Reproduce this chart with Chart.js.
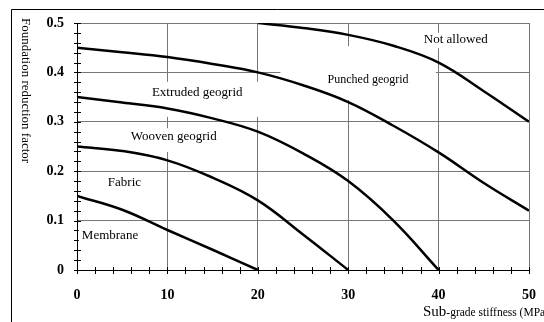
<!DOCTYPE html>
<html lang="en">
<head>
  <meta charset="UTF-8">
  <title>Foundation reduction factor</title>
  <style>
    body {
      margin: 0;
      background-color: #fff;
    }

    .chart-container {
      position: relative;
      width: 544px;
      height: 322px;
    }
  </style>
  <script src="https://cdn.jsdelivr.net/npm/chart.js"></script>
</head>
<body>
  <div class="chart-container">
    <canvas id="chart"></canvas>
  </div>

  <script>
    // Curves (x = sub-grade stiffness, y = reduction factor)
    const membraneX = [0, 5, 10, 15, 20];
    const membraneY = [0.15, 0.122, 0.081, 0.041, 0];
    const fabricX = [0, 5, 10, 15, 20, 25, 30];
    const fabricY = [0.25, 0.241, 0.222, 0.187, 0.141, 0.072, 0];
    const wovenX = [0, 5, 10, 15, 20, 25, 30, 35, 40];
    const wovenY = [0.35, 0.339, 0.327, 0.307, 0.28, 0.236, 0.18, 0.1, 0];
    const extrudedX = [0, 5, 10, 15, 20, 25, 30, 35, 40, 45, 50];
    const extrudedY = [0.45, 0.441, 0.431, 0.417, 0.4, 0.374, 0.34, 0.292, 0.238, 0.176, 0.12];
    const punchedX = [20, 25, 30, 35, 40, 45, 50];
    const punchedY = [0.5, 0.49, 0.476, 0.454, 0.42, 0.362, 0.3];

    // Region labels and where they sit (data units)
    const labelText = ['Not allowed', 'Punched geogrid', 'Extruded geogrid', 'Wooven geogrid', 'Fabric', 'Membrane'];
    const labelX = [41.9, 32.2, 13.3, 10.7, 5.25, 3.65];
    const labelY = [0.466, 0.385, 0.36, 0.271, 0.176, 0.069];

    const xTitle = ['Sub', '-grade stiffness (MPa)'];
    const yTitle = 'Foundation reduction factor';

    const serif = "'Liberation Serif', 'Times New Roman', serif";

    // white boxes behind the labels, they hide parts of the grid [x0, x1, y0, y1]
    const maskBoxes = [
      [37.9, 45.9, 0.449, 0.48],
      [22.5, 39.7, 0.344, 0.453],
      [7.0, 20.5, 0.31, 0.381],
      [5.3, 16.4, 0.239, 0.287],
      [3.1, 7.5, 0.16, 0.194],
      [0.2, 7.0, 0.053, 0.085]
    ];

    function isMajor(v, step) {
      return Math.abs(v / step - Math.round(v / step)) < 1e-6;
    }

    function toPoints(xs, ys) {
      return xs.map((x, i) => ({ x: x, y: ys[i] }));
    }

    function curve(xs, ys) {
      return {
        data: toPoints(xs, ys),
        borderColor: '#000',
        borderWidth: 2.5,
        pointRadius: 0,
        fill: false,
        tension: 0.4
      };
    }

    const decorations = {
      id: 'decorations',
      beforeDraw(chart) {
        const c = chart.ctx;
        c.save();
        c.fillStyle = '#fff';
        c.fillRect(0, 0, chart.width, chart.height);
        // outer frame (top and left only visible)
        c.strokeStyle = '#000';
        c.lineWidth = 1;
        c.beginPath();
        c.moveTo(11.5, chart.height);
        c.lineTo(11.5, 9.5);
        c.lineTo(chart.width, 9.5);
        c.stroke();
        c.restore();
      },
      beforeDatasetsDraw(chart) {
        const c = chart.ctx;
        const x = chart.scales.x;
        const y = chart.scales.y;
        c.save();
        // tick marks crossing the axes
        c.strokeStyle = '#000';
        c.lineWidth = 1;
        c.beginPath();
        x.ticks.forEach(t => {
          const px = Math.round(x.getPixelForValue(t.value)) + 0.5;
          c.moveTo(px, y.bottom - 3);
          c.lineTo(px, y.bottom + 4);
        });
        y.ticks.forEach(t => {
          const py = Math.round(y.getPixelForValue(t.value)) + 0.5;
          c.moveTo(x.left - 3, py);
          c.lineTo(x.left + 4, py);
        });
        c.stroke();

        c.fillStyle = '#fff';
        maskBoxes.forEach(b => {
          const x0 = x.getPixelForValue(b[0]);
          const x1 = x.getPixelForValue(b[1]);
          const y0 = y.getPixelForValue(b[3]);
          const y1 = y.getPixelForValue(b[2]);
          c.fillRect(x0, y0, x1 - x0, y1 - y0);
        });

        c.fillStyle = '#000';
        c.textAlign = 'center';
        c.textBaseline = 'middle';
        labelText.forEach((t, i) => {
          c.font = (i === 1 ? 12 : 13) + 'px ' + serif;
          c.fillText(t, x.getPixelForValue(labelX[i]), y.getPixelForValue(labelY[i]));
        });
        c.restore();
      },
      afterDraw(chart) {
        const c = chart.ctx;
        c.save();
        c.fillStyle = '#000';
        c.textBaseline = 'alphabetic';
        c.textAlign = 'left';

        // x title, first word larger
        c.font = '15px ' + serif;
        c.fillText(xTitle[0], 423, 316);
        const w = c.measureText(xTitle[0]).width;
        c.font = '11.5px ' + serif;
        c.fillText(xTitle[1], 423 + w, 316);

        // y title reads top to bottom
        c.font = '13px ' + serif;
        c.translate(22, 18);
        c.rotate(Math.PI / 2);
        c.fillText(yTitle, 0, 0);
        c.restore();
      }
    };

    const ctx = document.getElementById('chart').getContext('2d');
    const chart = new Chart(ctx, {
      type: 'line',
      data: {
        datasets: [
          curve(membraneX, membraneY),
          curve(fabricX, fabricY),
          curve(wovenX, wovenY),
          curve(extrudedX, extrudedY),
          curve(punchedX, punchedY)
        ]
      },
      options: {
        responsive: true,
        maintainAspectRatio: false,
        animation: false,
        layout: {
          padding: { top: 23, right: 15, left: 0, bottom: 0 }
        },
        plugins: {
          legend: { display: false },
          tooltip: { enabled: false }
        },
        scales: {
          x: {
            type: 'linear',
            min: 0,
            max: 50,
            ticks: {
              stepSize: 2,
              autoSkip: false,
              maxRotation: 0,
              padding: 17,
              color: '#000',
              font: { family: serif, size: 14, weight: 'bold' },
              callback: v => isMajor(v, 10) ? String(v) : ''
            },
            grid: {
              drawTicks: false,
              color: c => isMajor(c.tick.value, 10) ? '#777' : 'rgba(0,0,0,0)'
            },
            border: { color: '#000', width: 1 },
            afterFit: s => {
              s.height = 52;
              s.paddingLeft = 0;
              s.paddingRight = 0;
            }
          },
          y: {
            type: 'linear',
            min: 0,
            max: 0.5,
            ticks: {
              stepSize: 0.02,
              autoSkip: false,
              padding: 13,
              color: '#000',
              font: { family: serif, size: 14, weight: 'bold' },
              callback: v => isMajor(v, 0.1) ? String(Math.round(v * 10) / 10) : ''
            },
            grid: {
              drawTicks: false,
              color: c => isMajor(c.tick.value, 0.1) ? '#777' : 'rgba(0,0,0,0)'
            },
            border: { color: '#000', width: 1 },
            afterFit: s => {
              s.width = 77;
              s.paddingTop = 0;
              s.paddingBottom = 0;
            }
          }
        }
      },
      plugins: [decorations]
    });
  </script>
</body>
</html>
